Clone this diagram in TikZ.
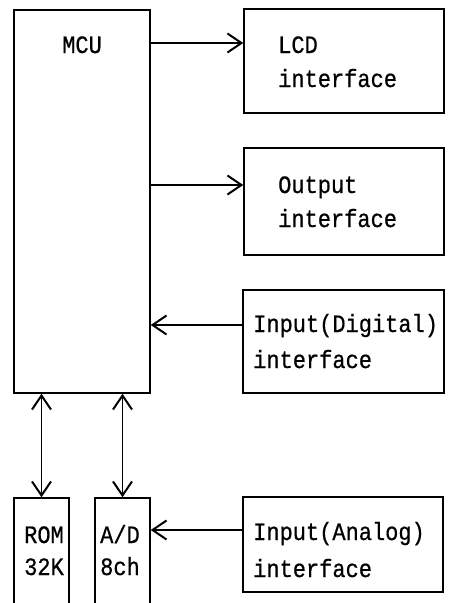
\documentclass[tikz,border=0pt]{standalone}
\usepackage{fontspec}
\newfontfamily\monofont[FakeStretch=0.88,FakeBold=0.6]{Liberation Mono}
\usetikzlibrary{arrows.meta}
\begin{document}
\begin{tikzpicture}[x=1pt,y=-1pt,
  box/.style={draw, line width=1.5pt, inner sep=0pt},
  tip/.tip={Straight Barb[length=14pt,width=19pt,line width=2pt]},
  arr/.style={line width=1.6pt, -tip},
  darr/.style={line width=1.3pt, tip-tip},
  lbl/.style={anchor=base west, inner sep=0pt, font=\monofont\fontsize{25}{34}\selectfont}]
\useasboundingbox (0,0) rectangle (449,603);
% boxes
\node[box, minimum width=136pt, minimum height=383pt] (mcu) at (82,201.5) {};
\node[box, minimum width=200pt, minimum height=104pt] (lcd) at (344,61) {};
\node[box, minimum width=200pt, minimum height=107pt] (out) at (344,201.5) {};
\node[box, minimum width=201pt, minimum height=103pt] (din) at (343.5,341.5) {};
\node[box, minimum width=55pt, minimum height=109pt] (rom) at (41.5,552.5) {};
\node[box, minimum width=55pt, minimum height=109pt] (ad) at (122.5,552.5) {};
\node[box, minimum width=200pt, minimum height=95pt] (ain) at (343,544.5) {};
% labels
\node[lbl] (tmcu) at (62,53) {MCU};
\node[lbl] (tlcd1) at (278,53) {LCD};
\node[lbl] (tlcd2) at (278,87) {interface};
\node[lbl] (tout1) at (278,193) {Output};
\node[lbl] (tout2) at (278,227) {interface};
\node[lbl] (tdin1) at (253,332) {Input(Digital)};
\node[lbl] (tdin2) at (253,368) {interface};
\node[lbl] (tain1) at (253,540) {Input(Analog)};
\node[lbl] (tain2) at (253,577) {interface};
\node[lbl] (trom1) at (24,543) {ROM};
\node[lbl] (trom2) at (24,575) {32K};
\node[lbl] (tad1) at (100,543) {A/D};
\node[lbl] (tad2) at (100,575) {8ch};
% connectors
\draw[arr] (mcu.east |- 0,43) -- (lcd.west |- 0,43);
\draw[arr] (mcu.east |- 0,185) -- (out.west |- 0,185);
\draw[arr] (din.west |- 0,325) -- (mcu.east |- 0,325);
\draw[arr] (ain.west |- 0,530) -- (ad.east |- 0,530);
\draw[darr] (mcu.south -| rom.north) -- (rom.north);
\draw[darr] (mcu.south -| ad.north) -- (ad.north);
\end{tikzpicture}
\end{document}
